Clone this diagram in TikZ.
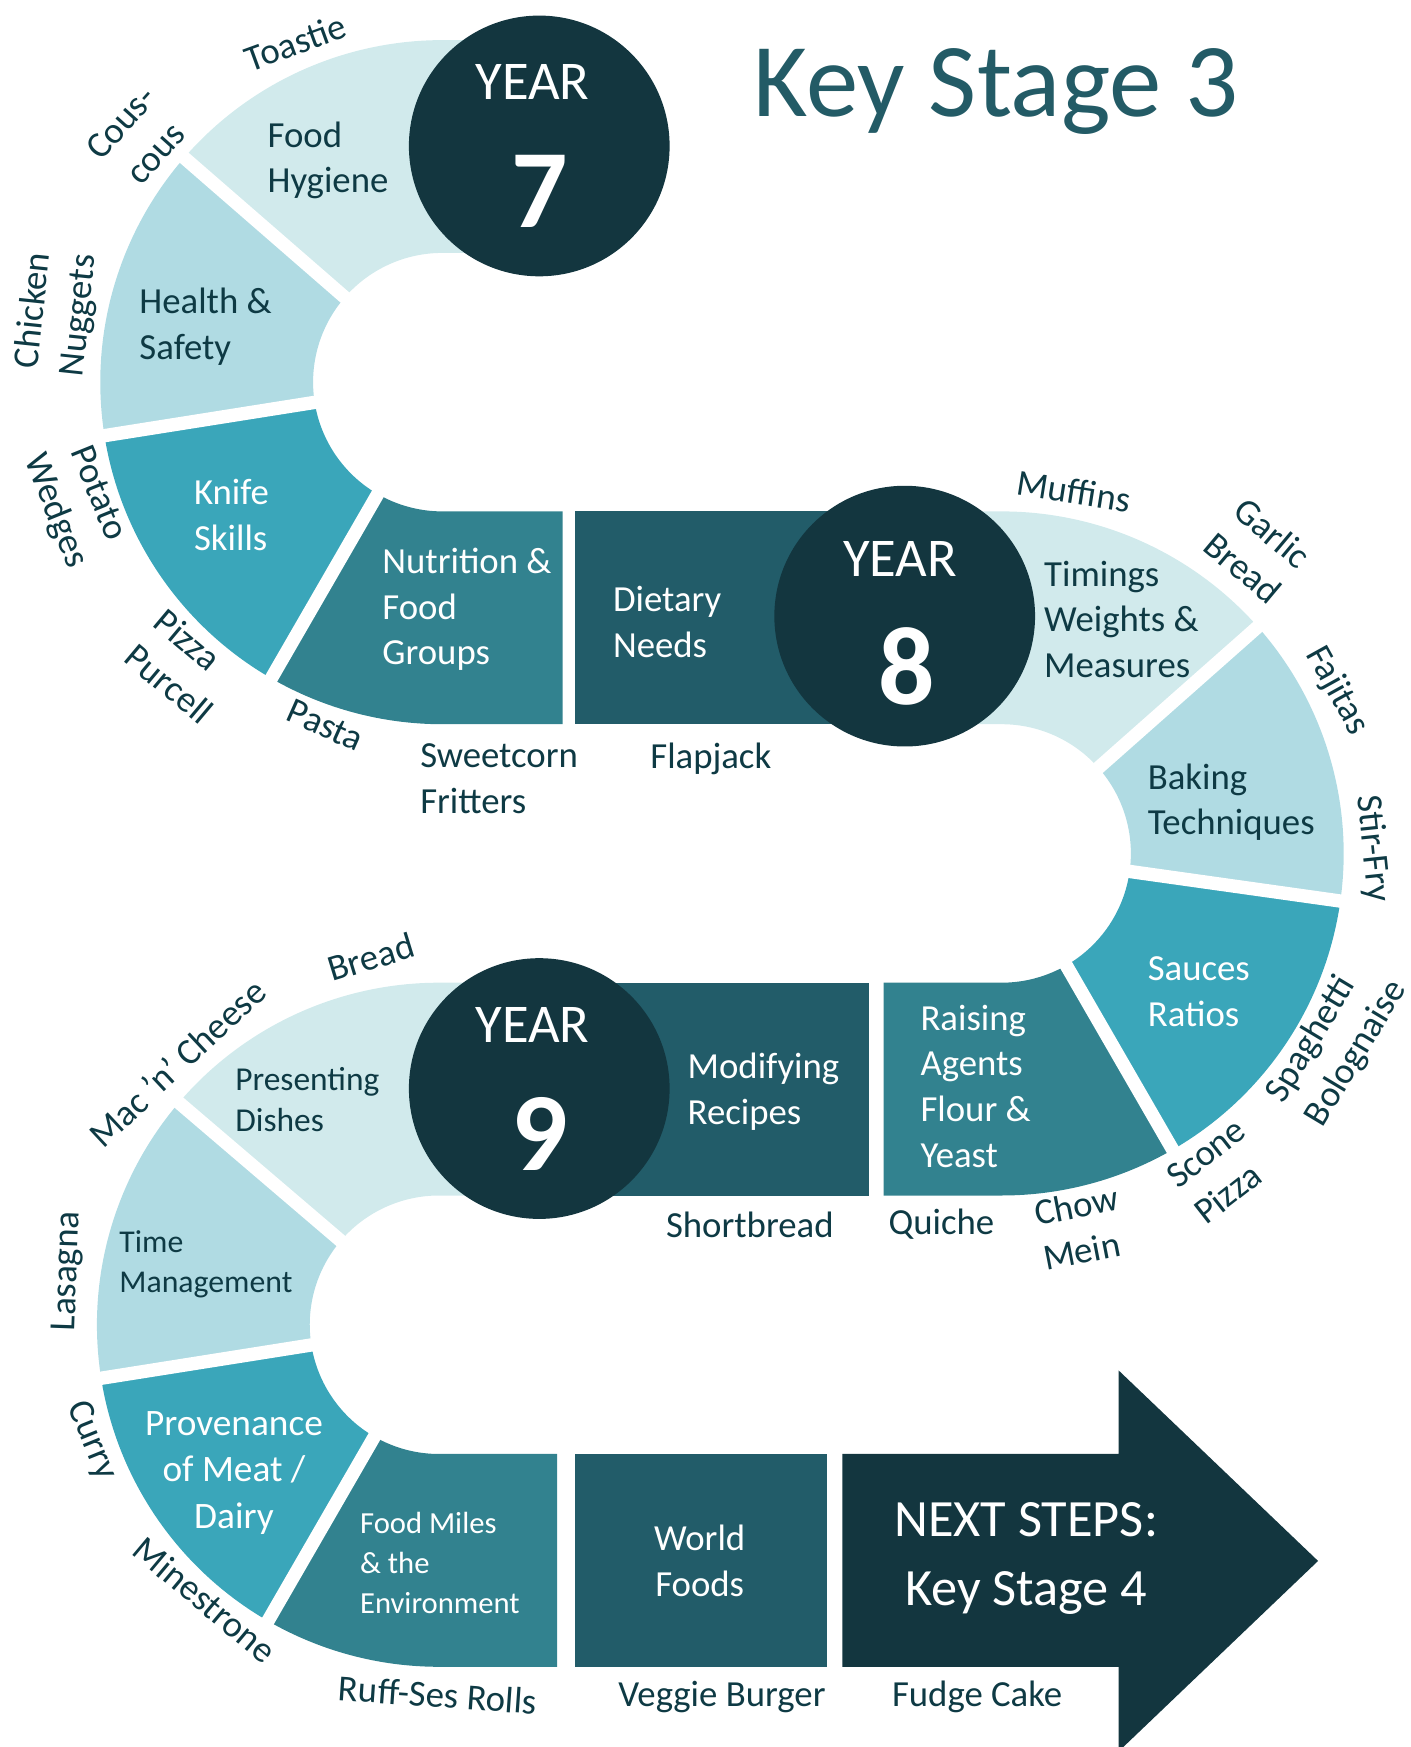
\documentclass[tikz,border=0pt]{standalone}
\usepackage{fontspec}
\setmainfont{Carlito}
\usepackage{tikz}
\usetikzlibrary{calc,positioning}

\definecolor{ksA}{HTML}{D1EAEC}
\definecolor{ksB}{HTML}{B0DBE3}
\definecolor{ksC}{HTML}{3AA6BA}
\definecolor{ksD}{HTML}{32828F}
\definecolor{ksE}{HTML}{225C69}
\definecolor{ksDark}{HTML}{13363F}
\definecolor{ksText}{HTML}{0E3A44}
\definecolor{ksTitle}{HTML}{235B66}

\begin{document}
\begin{tikzpicture}[x=1pt, y=1pt,
    gap/.style={white, line width=12},
    yearcirc/.style={circle, fill=ksDark, minimum size=234, inner sep=0pt},
    yeartxt/.style={text=white, inner sep=0pt, font=\fontsize{49}{49}\selectfont},
    yearnum/.style={text=white, inner sep=0pt, font=\fontsize{100}{100}\selectfont\bfseries},
    topic/.style={text=ksText, inner sep=0pt, align=left, anchor=west, font=\fontsize{33}{41}\selectfont},
    wtopic/.style={topic, text=white},
    dish/.style={text=ksText, inner sep=0pt, align=center, font=\fontsize{33}{41}\selectfont}]

    \useasboundingbox (0,0) rectangle (1266,-1568);

    % year 7 band
    \begin{scope}[shift={(397,-343)}]
      \fill[ksA] (87,307) -- (0,307) arc[start angle=90, end angle=139, radius=307] -- (139:116) arc[start angle=139, end angle=90, radius=116] -- (87,116) -- cycle;
      \fill[ksB] (139:307) arc[start angle=139, end angle=189, radius=307] -- (189:116) arc[start angle=189, end angle=139, radius=116] -- cycle;
      \fill[ksC] (189:307) arc[start angle=189, end angle=240, radius=307] -- (240:116) arc[start angle=240, end angle=189, radius=116] -- cycle;
      \fill[ksD] (240:307) arc[start angle=240, end angle=270, radius=307] -- (108,-307) -- (108,-116) -- (0,-116) arc[start angle=270, end angle=240, radius=116] -- cycle;
      \foreach \a in {139,189,240}
        \draw[gap] (\a:100) -- (\a:330);
    \end{scope}
    \fill[ksE] (516,-459) rectangle (812,-650);

    % year 8 band
    \begin{scope}[shift={(899,-766)}]
      \fill[ksA] (-87,307) -- (0,307) arc[start angle=90, end angle=41.5, radius=307] -- (41.5:116) arc[start angle=41.5, end angle=90, radius=116] -- (-87,116) -- cycle;
      \fill[ksB] (41.5:307) arc[start angle=41.5, end angle=-8, radius=307] -- (-8:116) arc[start angle=-8, end angle=41.5, radius=116] -- cycle;
      \fill[ksC] (-8:307) arc[start angle=-8, end angle=-60, radius=307] -- (-60:116) arc[start angle=-60, end angle=-8, radius=116] -- cycle;
      \fill[ksD] (-60:307) arc[start angle=-60, end angle=-90, radius=307] -- (-106,-307) -- (-106,-116) -- (0,-116) arc[start angle=-90, end angle=-60, radius=116] -- cycle;
      \foreach \a in {41.5,-8,-60}
        \draw[gap] (\a:100) -- (\a:330);
    \end{scope}
    \fill[ksE] (484,-882) rectangle (780,-1073);

    % year 9 band
    \begin{scope}[shift={(394,-1189)}]
      \fill[ksA] (90,307) -- (0,307) arc[start angle=90, end angle=139.5, radius=307] -- (139.5:116) arc[start angle=139.5, end angle=90, radius=116] -- (90,116) -- cycle;
      \fill[ksB] (139.5:307) arc[start angle=139.5, end angle=189, radius=307] -- (189:116) arc[start angle=189, end angle=139.5, radius=116] -- cycle;
      \fill[ksC] (189:307) arc[start angle=189, end angle=240, radius=307] -- (240:116) arc[start angle=240, end angle=189, radius=116] -- cycle;
      \fill[ksD] (240:307) arc[start angle=240, end angle=270, radius=307] -- (106,-307) -- (106,-116) -- (0,-116) arc[start angle=270, end angle=240, radius=116] -- cycle;
      \foreach \a in {139.5,189,240}
        \draw[gap] (\a:100) -- (\a:330);
    \end{scope}
    \fill[ksE] (516,-1305) rectangle (742,-1496);
    \fill[ksDark] (756,-1305) -- (1004,-1305) -- (1004,-1230) -- (1183,-1401) -- (1004,-1572) -- (1004,-1496) -- (756,-1496) -- cycle;

    % year circles
    \node[yearcirc] (y7) at (484,-131) {};
    \node[yearcirc] (y8) at (812,-553) {};
    \node[yearcirc] (y9) at (484,-977) {};
    \node[yeartxt] (y7txt) at ($(y7)+(-6,57)$) {YEAR};
    \node[yearnum] (y7num) at ($(y7)+(0,-41)$) {7};
    \node[yeartxt] (y8txt) at ($(y8)+(-4,51)$) {YEAR};
    \node[yearnum] (y8num) at ($(y8)+(2,-45)$) {8};
    \node[yeartxt] (y9txt) at ($(y9)+(-6,57)$) {YEAR};
    \node[yearnum] (y9num) at ($(y9)+(0,-41)$) {9};

    \node[text=ksTitle, inner sep=0pt, font=\fontsize{94}{94}\selectfont] (title) at (894,-82) {Key Stage 3};

    % topics
    \node[topic] (hyg) at (240,-144) {Food\\Hygiene};
    \node[topic] (hs) at (125,-293) {Health \&\\Safety};
    \node[wtopic] (knife) at (174,-462) {Knife\\Skills};
    \node[wtopic] (nutr) at (343,-547) {Nutrition \&\\Food\\Groups};
    \node[wtopic] (diet) at (550,-558) {Dietary\\Needs};
    \node[topic] (timing) at (937,-556) {Timings\\Weights \&\\Measures};
    \node[topic] (bake) at (1030,-720) {Baking\\Techniques};
    \node[wtopic] (sauce) at (1030,-890) {Sauces\\Ratios};
    \node[wtopic] (raise) at (826,-975) {Raising\\Agents\\Flour \&\\Yeast};
    \node[wtopic] (modify) at (617,-980) {Modifying\\Recipes};
    \node[topic, font=\fontsize{30}{37}\selectfont] (present) at (211,-987) {Presenting\\Dishes};
    \node[topic, font=\fontsize{28.5}{36}\selectfont] (timemg) at (107,-1135) {Time\\Management};
    \node[wtopic, align=center, anchor=center, font=\fontsize{33.5}{42}\selectfont] (prov) at (210,-1322) {Provenance\\of Meat /\\Dairy};
    \node[wtopic, font=\fontsize{27.5}{36}\selectfont] (miles) at (323,-1403) {Food Miles\\\& the\\Environment};
    \node[wtopic, align=center, anchor=center] (world) at (628,-1401) {World\\Foods};
    \node[text=white, inner sep=0pt, align=center, font=\fontsize{47}{62}\selectfont] (next) at (921,-1399) {NEXT STEPS:\\Key Stage 4};

    % dishes
    \node[dish, rotate=20] (toastie) at (265,-38) {Toastie};
    \node[dish, rotate=48] (cous) at (124,-124) {Cous-\\cous};
    \node[dish, rotate=84] (nugget) at (51,-281) {Chicken\\Nuggets};
    \node[dish, rotate=-68] (wedge) at (68,-451) {Potato\\Wedges};
    \node[dish, rotate=-40, align=left] (pizza) at (165,-598) {Pizza\\Purcell};
    \node[dish, rotate=-24] (pasta) at (292,-651) {Pasta};
    \node[dish, align=left, anchor=west] (sweet) at (377,-699) {Sweetcorn\\Fritters};
    \node[dish] (flap) at (638,-681) {Flapjack};
    \node[dish, rotate=-9] (muffin) at (964,-441) {Muffins};
    \node[dish, rotate=-40] (garlic) at (1129,-494) {Garlic\\Bread};
    \node[dish, rotate=-61] (fajita) at (1200,-620) {Fajitas};
    \node[dish, rotate=-84] (stirfry) at (1232,-762) {Stir-Fry};
    \node[dish, rotate=59, align=left] (spag) at (1200,-935) {Spaghetti\\Bolognaise};
    \node[dish, rotate=38, align=left] (scone) at (1095,-1051) {Scone\\Pizza};
    \node[dish, rotate=11, align=left] (chow) at (970,-1102) {Chow\\Mein};
    \node[dish] (quiche) at (845,-1099) {Quiche};
    \node[dish] (short) at (673,-1099) {Shortbread};
    \node[dish, rotate=17] (bread) at (333,-859) {Bread};
    \node[dish, rotate=43] (mac) at (159,-954) {Mac 'n' Cheese};
    \node[dish, rotate=88] (lasagna) at (61,-1141) {Lasagna};
    \node[dish, rotate=-68] (curry) at (82,-1293) {Curry};
    \node[dish, rotate=-40] (mine) at (184,-1436) {Minestrone};
    \node[dish, rotate=-4] (ruff) at (393,-1521) {Ruff-Ses Rolls};
    \node[dish] (veggie) at (648,-1523) {Veggie Burger};
    \node[dish] (fudge) at (877,-1523) {Fudge Cake};

\end{tikzpicture}
\end{document}
